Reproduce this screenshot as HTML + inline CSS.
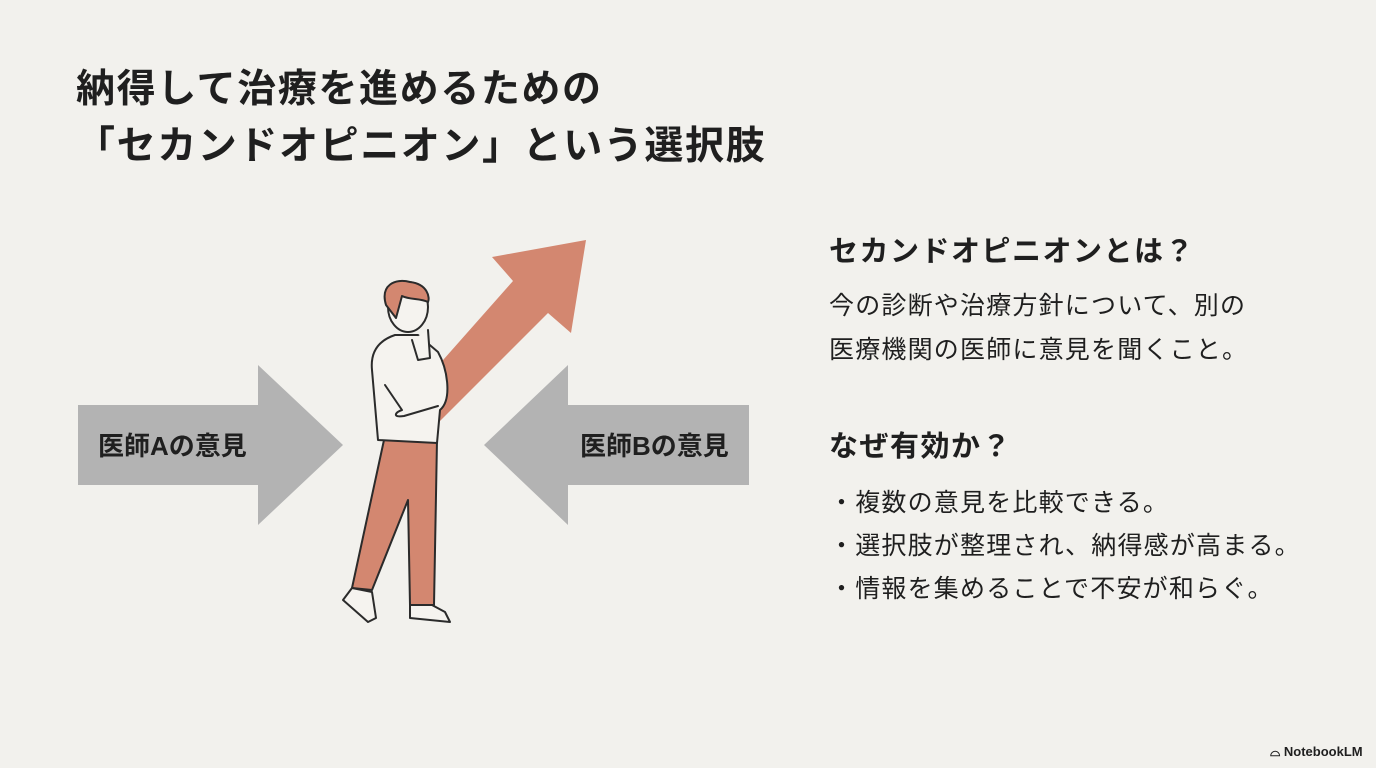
<!DOCTYPE html>
<html><head><meta charset="utf-8"><style>
html,body{margin:0;padding:0}
body{width:1376px;height:768px;background:#f2f1ed;position:relative;overflow:hidden;font-family:"Liberation Sans","Noto Sans CJK JP",sans-serif;color:#1f1f1f}
.t{position:absolute;white-space:nowrap}
h1{position:absolute;left:76px;top:61px;margin:0;font-size:39px;line-height:57px;font-weight:bold;letter-spacing:1.6px}
.h{font-size:29px;font-weight:bold;letter-spacing:1.5px}
.b{font-size:25px;letter-spacing:1.2px}
</style></head><body>
<h1>納得して治療を進めるための<br>「セカンドオピニオン」という選択肢</h1>
<svg width="1376" height="768" style="position:absolute;left:0;top:0">
<polygon points="78,405 258,405 258,365 343,445 258,525 258,485 78,485" fill="#b3b3b3"/>
<polygon points="749,405 568,405 568,365 484,445 568,525 568,485 749,485" fill="#b3b3b3"/>
<polygon points="586,240 571,333 548,313 440,421 413,394 513,281 492,257" fill="#d38770"/>
<g stroke="#2b2b2b" stroke-width="2" stroke-linejoin="round" stroke-linecap="round">
<path d="M384,440 L437,440 L434,605 L410,605 L408,500 L372,590 L352,588 Z" fill="#d38770"/>
<path d="M352,588 L343,600 L368,622 L376,618 L372,592 Z" fill="#f5f3ef"/>
<path d="M410,605 L410,618 L450,622 L445,612 L432,605 Z" fill="#f5f3ef"/>
<path d="M395,335 C380,340 370,350 372,370 L378,440 L437,443 L440,410 C452,400 448,370 438,352 L418,335 Z" fill="#f5f3ef"/>
<path d="M385,385 L402,410 C395,412 392,418 404,416 L438,406" fill="none"/>
<path d="M412,340 L418,360 L430,358 L428,330" fill="#f5f3ef"/>
<ellipse cx="408" cy="307" rx="20" ry="25" fill="#f5f3ef"/>
<path d="M386,305 C380,285 395,278 410,282 C428,284 430,298 428,302 C420,298 410,300 402,296 L396,318 Z" fill="#d38770"/>
</g>
</svg>
<div class="t h" style="left:829px;top:228px">セカンドオピニオンとは？</div>
<div class="t b" style="left:829px;top:284px;line-height:44px">今の診断や治療方針について、別の<br>医療機関の医師に意見を聞くこと。</div>
<div class="t h" style="left:829px;top:423px">なぜ有効か？</div>
<div class="t b" style="left:829px;top:482px;line-height:43px">・複数の意見を比較できる。<br>・選択肢が整理され、納得感が高まる。<br>・情報を集めることで不安が和らぐ。</div>
<div class="t" style="left:98px;top:426px;font-size:26px;font-weight:bold">医師Aの意見</div>
<div class="t" style="left:580px;top:426px;font-size:26px;font-weight:bold">医師Bの意見</div>
<div class="t" style="left:1270px;top:744px;font-size:13px;font-weight:bold">⌓ NotebookLM</div>
</body></html>
